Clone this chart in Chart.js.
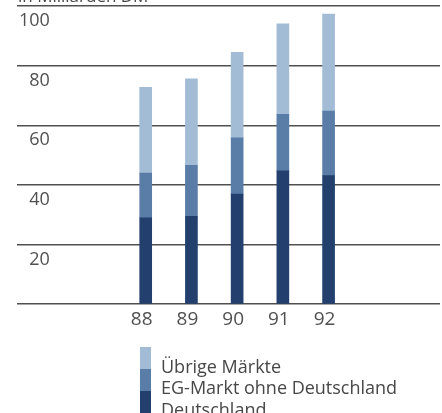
<!DOCTYPE html>
<html>
<head>
<meta charset="utf-8">
<script src="https://cdn.jsdelivr.net/npm/chart.js@4/dist/chart.umd.min.js"></script>
<style>
  html, body { margin: 0; padding: 0; background: #ffffff; }
  #wrap { width: 442px; height: 413px; position: relative; }
</style>
</head>
<body>
<div id="wrap"><canvas id="c" width="442" height="413"></canvas></div>
<script>
// ---- data ----
const years = [88, 89, 90, 91, 92];
const yearLabels = ['88', '89', '90', '91', '92'];
const deutschland = [29.0, 29.5, 36.9, 44.7, 43.1];
const egMarkt = [15.0, 17.1, 18.9, 19.0, 21.7];
const uebrige = [28.7, 29.0, 28.7, 30.3, 32.5];
const seriesNames = ['Deutschland', 'EG-Markt ohne Deutschland', 'Übrige Märkte'];
const yTicks = [0, 20, 40, 60, 80, 100];
const unitText = 'in Milliarden DM';

const colors = ['#223f6e', '#5a7da8', '#a2bcd6'];
const FONT = '"Open Sans", "Liberation Sans", sans-serif';
const TEXT = '#505050';

function pts(arr) { return years.map((yr, i) => ({ x: yr, y: arr[i] })); }

const legendPlugin = {
  id: 'stackLegend',
  afterDraw(chart) {
    const ctx = chart.ctx;
    ctx.save();
    const ds = chart.data.datasets.slice().reverse();
    const sx = 140, sw = 11, top = 347, rowH = 22;
    ds.forEach((d, i) => {
      ctx.fillStyle = d.backgroundColor;
      ctx.fillRect(sx, top + i * rowH, sw, rowH + 1);
    });
    ctx.font = '18px ' + FONT;
    ctx.fillStyle = '#474747';
    ctx.textBaseline = 'alphabetic';
    ctx.textAlign = 'left';
    ds.forEach((d, i) => {
      ctx.fillText(d.label, 161, 372.5 + i * 21.6);
    });
    // unit header (cut at top edge)
    ctx.font = '17px ' + FONT;
    ctx.fillText(unitText, 18, 2);
    ctx.restore();
  }
};

const zeroPad = s => { s.paddingTop = 0; s.paddingBottom = 0; s.paddingLeft = 0; s.paddingRight = 0; };

new Chart(document.getElementById('c'), {
  type: 'bar',
  data: {
    datasets: [
      { label: seriesNames[0], data: pts(deutschland), backgroundColor: colors[0] },
      { label: seriesNames[1], data: pts(egMarkt), backgroundColor: colors[1] },
      { label: seriesNames[2], data: pts(uebrige), backgroundColor: colors[2] }
    ]
  },
  options: {
    responsive: false,
    animation: false,
    devicePixelRatio: 1,
    barThickness: 12,
    layout: { padding: { left: 13, right: 2, top: 6, bottom: 78 } },
    plugins: {
      legend: { display: false },
      tooltip: { enabled: false }
    },
    scales: {
      x: {
        type: 'linear',
        stacked: true,
        offset: false,
        min: 85.185,
        max: 94.437,
        afterBuildTicks: axis => { axis.ticks = years.map(v => ({ value: v })); },
        afterFit: zeroPad,
        grid: { display: false, drawTicks: false },
        border: { display: false },
        ticks: {
          autoSkip: false,
          maxRotation: 0,
          padding: 4,
          labelOffset: -4,
          color: TEXT,
          font: { family: FONT, size: 19 },
          callback: v => { const i = years.indexOf(v); return i >= 0 ? yearLabels[i] : ''; }
        }
      },
      y: {
        stacked: true,
        min: 0,
        max: 100,
        afterBuildTicks: axis => { axis.ticks = yTicks.map(v => ({ value: v })); },
        afterFit: zeroPad,
        grid: { color: '#505050', lineWidth: 1.5, drawTicks: false },
        border: { display: false },
        ticks: {
          mirror: true,
          crossAlign: 'far',
          padding: 2,
          labelOffset: 15,
          color: TEXT,
          font: { family: FONT, size: 18 },
          callback: v => (v === 0 ? '' : String(v))
        }
      }
    }
  },
  plugins: [legendPlugin]
});
</script>
</body>
</html>
